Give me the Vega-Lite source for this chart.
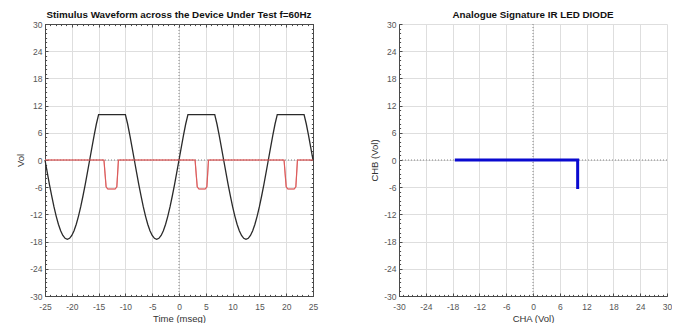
{
  "$schema": "https://vega.github.io/schema/vega-lite/v6.json",
  "padding": {"left": 15, "top": 10, "right": 0, "bottom": 0},
  "background": "white",
  "config": {
    "font": "Liberation Sans",
    "view": {"stroke": null},
    "axis": {
      "labelFont": "Liberation Sans", "labelFontSize": 8.5, "labelColor": "#555555",
      "titleFont": "Liberation Sans", "titleFontSize": 9.5, "titleColor": "#333333", "titleFontWeight": "normal",
      "domainColor": "#4a4a4a", "tickColor": "#4a4a4a", "gridColor": "#dedede", "gridWidth": 1,
      "labelOverlap": false, "labelFlush": false, "titlePadding": 0
    }
  },
  "datasets": {
    "stim": [
      {"t": -25, "v": 0}, {"t": -24.583, "v": -2.74}, {"t": -24.167, "v": -5.41}, {"t": -23.75, "v": -7.94},
      {"t": -23.333, "v": -10.29}, {"t": -22.917, "v": -12.37}, {"t": -22.5, "v": -14.16}, {"t": -22.083, "v": -15.59},
      {"t": -21.667, "v": -16.64}, {"t": -21.25, "v": -17.28}, {"t": -20.833, "v": -17.5}, {"t": -20.417, "v": -17.28},
      {"t": -20, "v": -16.64}, {"t": -19.583, "v": -15.59}, {"t": -19.167, "v": -14.16}, {"t": -18.75, "v": -12.37},
      {"t": -18.333, "v": -10.29}, {"t": -17.917, "v": -7.94}, {"t": -17.5, "v": -5.41}, {"t": -17.083, "v": -2.74},
      {"t": -16.667, "v": 0}, {"t": -16.25, "v": 2.74}, {"t": -15.833, "v": 5.41}, {"t": -15.417, "v": 7.94},
      {"t": -15, "v": 10}, {"t": -10, "v": 10},
      {"t": -9.583, "v": 7.94}, {"t": -9.167, "v": 5.41}, {"t": -8.75, "v": 2.74},
      {"t": -8.333, "v": 0}, {"t": -7.917, "v": -2.74}, {"t": -7.5, "v": -5.41}, {"t": -7.083, "v": -7.94},
      {"t": -6.667, "v": -10.29}, {"t": -6.25, "v": -12.37}, {"t": -5.833, "v": -14.16}, {"t": -5.417, "v": -15.59},
      {"t": -5, "v": -16.64}, {"t": -4.583, "v": -17.28}, {"t": -4.167, "v": -17.5}, {"t": -3.75, "v": -17.28},
      {"t": -3.333, "v": -16.64}, {"t": -2.917, "v": -15.59}, {"t": -2.5, "v": -14.16}, {"t": -2.083, "v": -12.37},
      {"t": -1.667, "v": -10.29}, {"t": -1.25, "v": -7.94}, {"t": -0.833, "v": -5.41}, {"t": -0.417, "v": -2.74},
      {"t": 0, "v": 0}, {"t": 0.417, "v": 2.74}, {"t": 0.833, "v": 5.41}, {"t": 1.25, "v": 7.94},
      {"t": 1.667, "v": 10}, {"t": 6.667, "v": 10},
      {"t": 7.083, "v": 7.94}, {"t": 7.5, "v": 5.41}, {"t": 7.917, "v": 2.74},
      {"t": 8.333, "v": 0}, {"t": 8.75, "v": -2.74}, {"t": 9.167, "v": -5.41}, {"t": 9.583, "v": -7.94},
      {"t": 10, "v": -10.29}, {"t": 10.417, "v": -12.37}, {"t": 10.833, "v": -14.16}, {"t": 11.25, "v": -15.59},
      {"t": 11.667, "v": -16.64}, {"t": 12.083, "v": -17.28}, {"t": 12.5, "v": -17.5}, {"t": 12.917, "v": -17.28},
      {"t": 13.333, "v": -16.64}, {"t": 13.75, "v": -15.59}, {"t": 14.167, "v": -14.16}, {"t": 14.583, "v": -12.37},
      {"t": 15, "v": -10.29}, {"t": 15.417, "v": -7.94}, {"t": 15.833, "v": -5.41}, {"t": 16.25, "v": -2.74},
      {"t": 16.667, "v": 0}, {"t": 17.083, "v": 2.74}, {"t": 17.5, "v": 5.41}, {"t": 17.917, "v": 7.94},
      {"t": 18.333, "v": 10}, {"t": 23.333, "v": 10},
      {"t": 23.75, "v": 7.94}, {"t": 24.167, "v": 5.41}, {"t": 24.583, "v": 2.74}, {"t": 25, "v": 0}
    ],
    "resp": [
      {"t": -25, "v": 0}, {"t": -14.0, "v": 0}, {"t": -13.8, "v": -3}, {"t": -13.6, "v": -5.9}, {"t": -13.3, "v": -6.4},
      {"t": -11.9, "v": -6.4}, {"t": -11.6, "v": -5.9}, {"t": -11.45, "v": -3}, {"t": -11.3, "v": 0},
      {"t": 3.0, "v": 0}, {"t": 3.2, "v": -3}, {"t": 3.4, "v": -5.9}, {"t": 3.7, "v": -6.4},
      {"t": 4.9, "v": -6.4}, {"t": 5.2, "v": -5.9}, {"t": 5.35, "v": -3}, {"t": 5.5, "v": 0},
      {"t": 19.6, "v": 0}, {"t": 19.8, "v": -3}, {"t": 20.0, "v": -5.9}, {"t": 20.3, "v": -6.4},
      {"t": 21.5, "v": -6.4}, {"t": 21.8, "v": -5.9}, {"t": 21.95, "v": -3}, {"t": 22.1, "v": 0}, {"t": 25, "v": 0}
    ],
    "sig": [
      {"i": 1, "cha": -17.5, "chb": 0}, {"i": 2, "cha": 10, "chb": 0}, {"i": 3, "cha": 10, "chb": -6.4}
    ],
    "zero": [{"z": 0}]
  },
  "hconcat": [
    {
      "width": 268, "height": 272,
      "title": {"text": "Stimulus Waveform across the Device Under Test f=60Hz", "fontSize": 9.8, "fontWeight": "bold", "color": "#111111", "frame": "group", "anchor": "middle", "offset": 0},
      "layer": [
        {"data": {"name": "zero"}, "mark": {"type": "rule", "color": "#777777", "strokeDash": [1, 2], "strokeWidth": 0.9},
         "encoding": {"x": {"field": "z", "type": "quantitative", "scale": {"domain": [-25, 25], "nice": false},
           "axis": {"orient": "bottom", "title": null, "labels": false, "grid": false, "domain": false, "tickSize": -1.6,
             "values": [-25,-24,-23,-22,-21,-20,-19,-18,-17,-16,-15,-14,-13,-12,-11,-10,-9,-8,-7,-6,-5,-4,-3,-2,-1,0,1,2,3,4,5,6,7,8,9,10,11,12,13,14,15,16,17,18,19,20,21,22,23,24,25]}}}},
        {"data": {"name": "zero"}, "mark": {"type": "rule", "color": "#777777", "strokeDash": [1, 2], "strokeWidth": 0.9},
         "encoding": {"y": {"field": "z", "type": "quantitative", "scale": {"domain": [-30, 30], "nice": false},
           "axis": {"orient": "left", "title": null, "labels": false, "grid": false, "domain": false, "tickSize": -1.6,
             "values": [-30,-29,-28,-27,-26,-25,-24,-23,-22,-21,-20,-19,-18,-17,-16,-15,-14,-13,-12,-11,-10,-9,-8,-7,-6,-5,-4,-3,-2,-1,0,1,2,3,4,5,6,7,8,9,10,11,12,13,14,15,16,17,18,19,20,21,22,23,24,25,26,27,28,29,30]}}}},
        {"data": {"name": "resp"}, "mark": {"type": "line", "color": "#dc5c5c", "strokeWidth": 0.6},
         "encoding": {
           "x": {"field": "t", "type": "quantitative", "scale": {"domain": [-25, 25], "nice": false},
             "axis": {"orient": "top", "title": null, "labels": false, "grid": false, "domain": false, "tickSize": -1.6,
               "values": [-25,-24,-23,-22,-21,-20,-19,-18,-17,-16,-15,-14,-13,-12,-11,-10,-9,-8,-7,-6,-5,-4,-3,-2,-1,0,1,2,3,4,5,6,7,8,9,10,11,12,13,14,15,16,17,18,19,20,21,22,23,24,25]}},
           "y": {"field": "v", "type": "quantitative", "scale": {"domain": [-30, 30], "nice": false},
             "axis": {"orient": "right", "title": null, "labels": false, "grid": false, "domain": false, "tickSize": -1.6,
               "values": [-30,-29,-28,-27,-26,-25,-24,-23,-22,-21,-20,-19,-18,-17,-16,-15,-14,-13,-12,-11,-10,-9,-8,-7,-6,-5,-4,-3,-2,-1,0,1,2,3,4,5,6,7,8,9,10,11,12,13,14,15,16,17,18,19,20,21,22,23,24,25,26,27,28,29,30]}}
         }},
        {"data": {"name": "stim"}, "mark": {"type": "line", "color": "#2a2a2a", "strokeWidth": 1.3},
         "encoding": {
           "x": {"field": "t", "type": "quantitative", "scale": {"domain": [-25, 25], "nice": false},
             "axis": {"orient": "bottom", "title": "Time (mseg)", "grid": true, "tickSize": -3,
               "values": [-25,-20,-15,-10,-5,0,5,10,15,20,25],
               "labelExpr": "'' + datum.value",
               "labelPadding": 9, "minExtent": 17, "maxExtent": 17}},
           "y": {"field": "v", "type": "quantitative", "scale": {"domain": [-30, 30], "nice": false},
             "axis": {"orient": "left", "title": "Vol", "grid": true, "tickSize": -3,
               "values": [-30,-24,-18,-12,-6,0,6,12,18,24,30],
               "labelExpr": "'' + datum.value",
               "labelPadding": 6, "minExtent": 20, "maxExtent": 20}}
         }},
        {"data": {"name": "resp"}, "mark": {"type": "line", "color": "#dc5c5c", "strokeWidth": 1.2},
         "encoding": {
           "x": {"field": "t", "type": "quantitative", "scale": {"domain": [-25, 25], "nice": false},
             "axis": {"orient": "top", "title": null, "labels": false, "grid": false, "tickSize": -3,
               "values": [-25,-20,-15,-10,-5,0,5,10,15,20,25]}},
           "y": {"field": "v", "type": "quantitative", "scale": {"domain": [-30, 30], "nice": false},
             "axis": {"orient": "right", "title": null, "labels": false, "grid": false, "tickSize": -3,
               "values": [-30,-24,-18,-12,-6,0,6,12,18,24,30]}}
         }}
      ],
      "resolve": {"axis": {"x": "independent", "y": "independent"}}
    },
    {
      "width": 268, "height": 272,
      "title": {"text": "Analogue Signature IR LED DIODE", "fontSize": 9.8, "fontWeight": "bold", "color": "#111111", "frame": "group", "anchor": "middle", "offset": 0},
      "layer": [
        {"data": {"name": "zero"}, "mark": {"type": "rule", "color": "#777777", "strokeDash": [1, 2], "strokeWidth": 0.9},
         "encoding": {"x": {"field": "z", "type": "quantitative", "scale": {"domain": [-30, 30], "nice": false},
           "axis": {"orient": "bottom", "title": null, "labels": false, "grid": false, "domain": false, "tickSize": -1.6,
             "values": [-30,-29,-28,-27,-26,-25,-24,-23,-22,-21,-20,-19,-18,-17,-16,-15,-14,-13,-12,-11,-10,-9,-8,-7,-6,-5,-4,-3,-2,-1,0,1,2,3,4,5,6,7,8,9,10,11,12,13,14,15,16,17,18,19,20,21,22,23,24,25,26,27,28,29,30]}}}},
        {"data": {"name": "zero"}, "mark": {"type": "rule", "color": "#777777", "strokeDash": [1, 2], "strokeWidth": 0.9},
         "encoding": {"y": {"field": "z", "type": "quantitative", "scale": {"domain": [-30, 30], "nice": false},
           "axis": {"orient": "left", "title": null, "labels": false, "grid": false, "domain": false, "tickSize": -1.6,
             "values": [-30,-29,-28,-27,-26,-25,-24,-23,-22,-21,-20,-19,-18,-17,-16,-15,-14,-13,-12,-11,-10,-9,-8,-7,-6,-5,-4,-3,-2,-1,0,1,2,3,4,5,6,7,8,9,10,11,12,13,14,15,16,17,18,19,20,21,22,23,24,25,26,27,28,29,30]}}}},
        {"data": {"name": "sig"}, "mark": {"type": "line", "color": "#0a0ad0", "strokeWidth": 3},
         "encoding": {
           "order": {"field": "i", "type": "quantitative"},
           "x": {"field": "cha", "type": "quantitative", "scale": {"domain": [-30, 30], "nice": false},
             "axis": {"orient": "bottom", "title": "CHA (Vol)", "grid": true, "tickSize": -3,
               "values": [-30,-24,-18,-12,-6,0,6,12,18,24,30],
               "labelExpr": "'' + datum.value",
               "labelPadding": 9, "minExtent": 17, "maxExtent": 17}},
           "y": {"field": "chb", "type": "quantitative", "scale": {"domain": [-30, 30], "nice": false},
             "axis": {"orient": "left", "title": "CHB (Vol)", "grid": true, "tickSize": -3,
               "values": [-30,-24,-18,-12,-6,0,6,12,18,24,30],
               "labelExpr": "'' + datum.value",
               "labelPadding": 6, "minExtent": 20, "maxExtent": 20}}
         }}
      ],
      "resolve": {"axis": {"x": "independent", "y": "independent"}}
    }
  ],
  "spacing": 86,
  "bounds": "flush"
}
